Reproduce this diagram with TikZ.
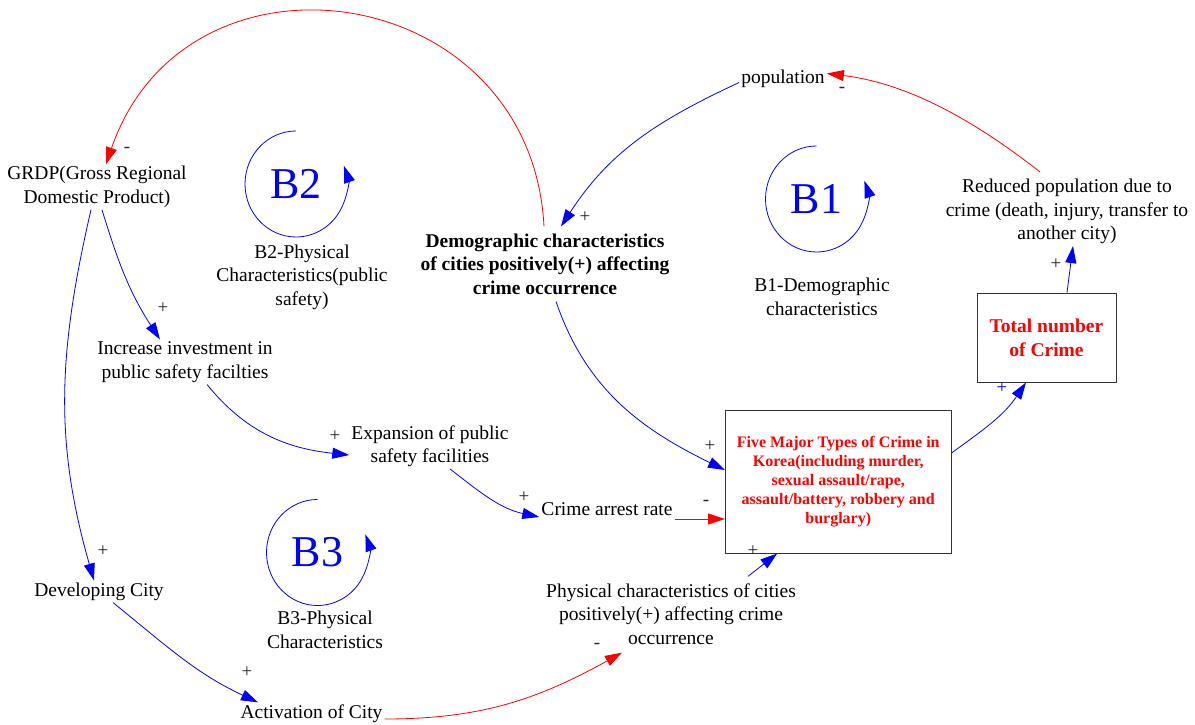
\documentclass[tikz,border=0pt]{standalone}
\usepackage{fontspec}
\setmainfont{Liberation Serif}
\usetikzlibrary{positioning,calc,arrows.meta}

\begin{document}
\begin{tikzpicture}[x=1pt,y=1pt,
        txt/.style={align=center,inner sep=2pt,font=\fontsize{19.5}{23.5}\selectfont},
        crimebox/.style={draw=black!80,line width=1pt,align=center,text=red,inner sep=2pt},
        poslink/.style={draw=blue,line width=0.8pt,-{Triangle[length=17pt,width=11pt]}},
        neglink/.style={draw=red,line width=0.8pt,-{Triangle[length=17pt,width=11pt]}},
        sign/.style={inner sep=0pt,text=black!85,font=\fontsize{19}{19}\selectfont},
        loopname/.style={inner sep=0pt,text=blue,font=\fontsize{44}{44}\selectfont}]
    \useasboundingbox (0,0) rectangle (1195,-725);

    % variables
    \node[txt] (grdp) at (97,-187) {GRDP(Gross Regional\\Domestic Product)};
    \node[txt] (pop) at (783,-78.5) {population};
    \node[txt,inner ysep=7pt,font=\bfseries\fontsize{19.5}{23.5}\selectfont] (demog) at (545,-264)
        {Demographic characteristics\\of cities positively(+) affecting\\crime occurrence};
    \node[txt] (reduced) at (1067,-211.5) {Reduced population due to\\crime (death, injury, transfer to\\another city)};
    \node[txt] (increase) at (185,-362) {Increase investment in\\public safety facilties};
    \node[txt] (expansion) at (430,-446) {Expansion of public\\safety facilities};
    \node[txt] (arrest) at (607,-509) {Crime arrest rate};
    \node[txt] (developing) at (99,-591.5) {Developing City};
    \node[txt] (activation) at (311.5,-713.5) {Activation of City};
    \node[txt] (physical) at (671,-614) {Physical characteristics of cities\\positively(+) affecting crime\\occurrence};

    \node[crimebox,minimum width=225.5pt,minimum height=143pt,font=\bfseries\fontsize{16}{19}\selectfont] (five) at (838.25,-481.5)
        {Five Major Types of Crime in\\Korea(including murder,\\sexual assault/rape,\\assault/battery, robbery and\\burglary)};
    \node[crimebox,minimum width=139pt,minimum height=89pt,font=\bfseries\fontsize{19.5}{24}\selectfont] (total) at (1046.5,-337.5)
        {Total number\\of Crime};

    % loops
    \node[loopname] (b1) at (816.5,-199) {B1};
    \node[loopname] (b2) at (296,-184) {B2};
    \node[loopname] (b3) at (317.5,-552.5) {B3};
    \foreach \n in {b1,b2,b3} {
        \draw[poslink] ([yshift=53pt]\n.center) arc[start angle=90,end angle=380,x radius=51,y radius=53]; }

    \node[txt] (b1name) at (822,-297) {B1-Demographic\\characteristics};
    \node[txt] (b2name) at (302,-277) {B2-Physical\\Characteristics(public\\safety)};
    \node[txt] (b3name) at (325,-630) {B3-Physical\\Characteristics};

    % links
    \draw[neglink] ([xshift=-1pt]demog.north) to[out=93,in=71,looseness=1.43] ([xshift=9pt]grdp.north);
    \draw[neglink] ([xshift=-27pt,yshift=5pt]reduced.north) to[out=142,in=-7,looseness=0.9] ([yshift=5pt]pop.east);
    \draw[poslink] ([yshift=-4pt]pop.west) to[out=205,in=57] ([xshift=16pt]demog.north);
    \draw[poslink] ([xshift=11pt]demog.south) to[out=-71,in=154] ([yshift=11.5pt]five.west);
    \draw[poslink] ([xshift=5pt]grdp.south) to[out=-73,in=123] ([xshift=-25pt]increase.north);
    \draw[poslink] ([xshift=-6pt]grdp.south) to[out=-103,in=106] ([xshift=-5pt]developing.north);
    \draw[poslink] ([xshift=22pt]increase.south) to[out=-51,in=174] ([yshift=-9pt]expansion.west);
    \draw[poslink] ([xshift=20pt]expansion.south) to[out=-38,in=168] ([yshift=-8pt]arrest.west);
    \draw[neglink] ([yshift=-10pt]arrest.east) -- ([yshift=-37.5pt]five.west);
    \draw[poslink] ([xshift=14pt]developing.south) to[out=-39,in=155] ([xshift=-53.5pt]activation.north);
    \draw[neglink] ([yshift=-5.5pt]activation.east) to[out=0,in=209] ([xshift=-49pt,yshift=-6pt]physical.south);
    \draw[poslink] ([xshift=77pt,yshift=5pt]physical.north) -- ([xshift=-61pt]five.south);
    \draw[poslink] ([yshift=28.5pt]five.east) to[out=36,in=-124] ([xshift=-20.5pt]total.south);
    \draw[poslink] ([xshift=20.5pt]total.north) -- ([xshift=6pt]reduced.south);

    % polarities
    \foreach \x/\y/\s [count=\i] in {127/150/-, 842/90/-, 585/217/+, 710/446/+, 706/503/-, 753/551/+,
            1056/264/+, 163/308/+, 335/436/+, 524/497/+, 103/551/+, 247/672/+, 597/646/-} {
        \node[sign] (sg\i) at (\x,-\y) {\s}; }
    \node[sign,text=blue] (sgtotal) at (1002,-388) {+};
\end{tikzpicture}
\end{document}
